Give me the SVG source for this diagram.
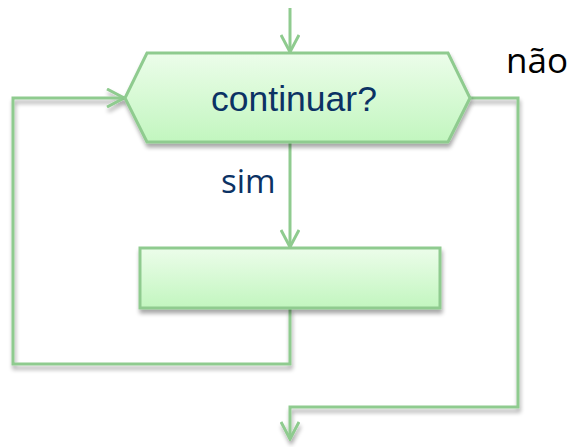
<svg xmlns="http://www.w3.org/2000/svg" width="572" height="447" viewBox="0 0 572 447">
<defs>
<linearGradient id="g" x1="0" y1="0" x2="0" y2="1">
<stop offset="0" stop-color="#ecfdea"/>
<stop offset="1" stop-color="#c2f6bf"/>
</linearGradient>
<filter id="sh" x="-10%" y="-10%" width="120%" height="140%">
<feGaussianBlur in="SourceAlpha" stdDeviation="2"/>
<feOffset dx="1" dy="4" result="b"/>
<feComponentTransfer><feFuncA type="linear" slope="0.35"/></feComponentTransfer>
<feMerge><feMergeNode/><feMergeNode in="SourceGraphic"/></feMerge>
</filter>
<marker id="arr" viewBox="0 0 20 20" refX="18" refY="10" markerWidth="20" markerHeight="20" markerUnits="userSpaceOnUse" orient="auto">
<path d="M1,1 L18,10 L1,19" fill="none" stroke="#8fcb8f" stroke-width="3"/>
</marker>
</defs>
<style>
.ln{fill:none;stroke:#8fcb8f;stroke-width:3;stroke-linejoin:miter}
.nd{fill:url(#g);stroke:#8fcb8f;stroke-width:3;filter:url(#sh)}
.t1{font-family:"Liberation Sans",Arial,sans-serif;font-size:35.5px;fill:#0b3264}
.t2{font-family:"Open Sans","DejaVu Sans",sans-serif}
</style>
<rect width="572" height="447" fill="#ffffff"/>
<g id="connectors">
<path class="ln" d="M290,8 V52" marker-end="url(#arr)"/>
<path class="ln" d="M290,142 V247" marker-end="url(#arr)"/>
<path class="ln" d="M290,308 V364 H13 V98 H124" marker-end="url(#arr)" filter="url(#sh)"/>
<path class="ln" d="M470,98 H518 V407 H290 V439" marker-end="url(#arr)" filter="url(#sh)"/>
</g>
<g id="decision">
<polygon class="nd" points="147,53 448,53 470,98 448,142 147,142 125,98"/>
<text class="t1" x="294" y="111" text-anchor="middle">continuar?</text>
</g>
<g id="process">
<rect class="nd" x="140" y="248" width="300" height="60"/>
</g>
<g id="labels">
<text class="t2" x="221" y="193" font-size="33" fill="#0b3264">sim</text>
<text class="t2" x="506" y="73" font-size="35" fill="#000000">não</text>
</g>
</svg>
